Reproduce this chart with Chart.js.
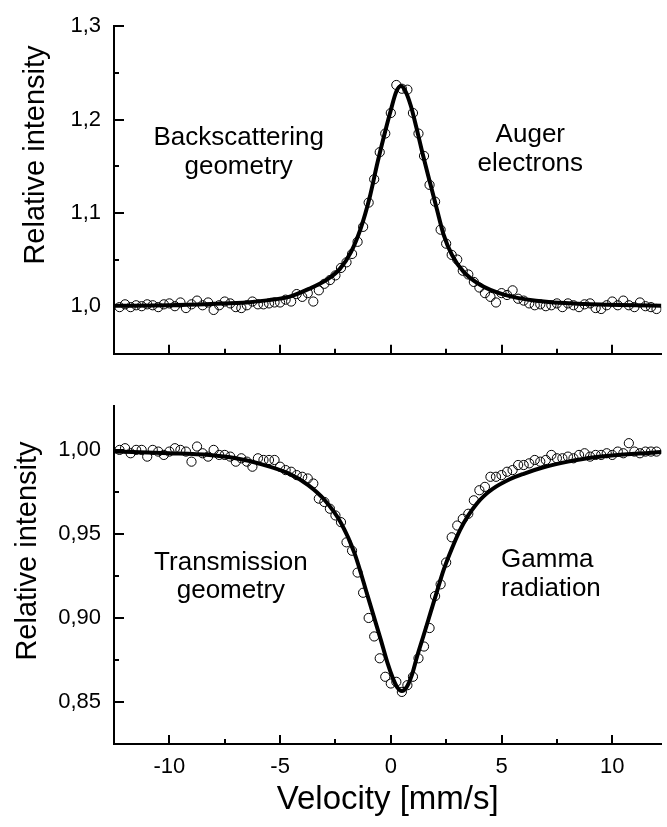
<!DOCTYPE html>
<html>
<head>
<meta charset="utf-8">
<script src="https://cdn.jsdelivr.net/npm/chart.js@4.4.1/dist/chart.umd.min.js"></script>
<style>
html,body{margin:0;padding:0;background:#fff;overflow:hidden;width:667px;height:827px;}
canvas{position:absolute;left:0;}
#c1{top:0;}
#c2{top:380px;}
</style>
</head>
<body>
<canvas id="c1" width="667" height="380"></canvas>
<canvas id="c2" width="667" height="447"></canvas>
<script>
// ---------- data ----------
const velocity = [-12.25,-12,-11.75,-11.5,-11.25,-11,-10.75,-10.5,-10.25,-10,
  -9.75,-9.5,-9.25,-9,-8.75,-8.5,-8.25,-8,-7.75,-7.5,
  -7.25,-7,-6.75,-6.5,-6.25,-6,-5.75,-5.5,-5.25,-5,
  -4.75,-4.5,-4.25,-4,-3.75,-3.5,-3.25,-3,-2.75,-2.5,
  -2.25,-2,-1.75,-1.5,-1.25,-1,-0.75,-0.5,-0.25,0,
  0.25,0.5,0.75,1,1.25,1.5,1.75,2,2.25,2.5,
  2.75,3,3.25,3.5,3.75,4,4.25,4.5,4.75,5,
  5.25,5.5,5.75,6,6.25,6.5,6.75,7,7.25,7.5,
  7.75,8,8.25,8.5,8.75,9,9.25,9.5,9.75,10,
  10.25,10.5,10.75,11,11.25,11.5,11.75,12];

const augerIntensity = [0.999,1.002,0.999,1.001,1.000,1.002,1.001,0.999,1.002,1.003,
  1.000,1.004,0.998,1.002,1.006,1.001,1.004,0.996,1.001,1.005,
  1.003,0.999,0.998,1.001,1.005,1.002,1.002,1.003,1.004,1.004,
  1.007,1.005,1.013,1.010,1.014,1.005,1.017,1.024,1.028,1.033,
  1.041,1.047,1.056,1.069,1.085,1.111,1.136,1.165,1.185,1.207,
  1.237,1.233,1.232,1.207,1.185,1.161,1.130,1.112,1.082,1.067,
  1.055,1.050,1.038,1.034,1.026,1.020,1.014,1.010,1.004,1.014,
  1.012,1.017,1.008,1.006,1.003,1.001,1.002,1.000,1.001,1.003,
  0.999,1.003,1.001,0.999,1.002,1.003,0.998,0.997,1.001,1.005,
  1.001,1.006,1.001,0.999,1.004,1.000,0.999,0.997];

const gammaIntensity = [1.000,1.001,0.998,1.000,1.000,0.996,1.000,0.999,0.997,0.999,
  1.001,1.000,0.999,0.993,1.002,0.998,0.996,1.000,0.997,0.997,
  0.996,0.993,0.995,0.993,0.990,0.995,0.994,0.994,0.994,0.990,
  0.988,0.987,0.985,0.984,0.983,0.980,0.971,0.969,0.965,0.961,
  0.957,0.945,0.940,0.927,0.915,0.900,0.889,0.876,0.865,0.861,
  0.862,0.856,0.860,0.865,0.876,0.883,0.894,0.913,0.920,0.933,
  0.948,0.955,0.959,0.962,0.970,0.976,0.978,0.984,0.984,0.985,
  0.987,0.988,0.991,0.991,0.992,0.994,0.993,0.994,0.997,0.995,
  0.995,0.996,0.995,0.997,0.998,0.996,0.997,0.997,0.998,0.997,
  0.999,0.998,1.004,0.999,0.998,0.999,0.999,0.999];

const fitVelTop = [-12.5,-10,-8,-6.5,-5.5,-4.6,-3.7,-2.85,-2.3,-1.8,-1.35,-0.97,-0.6,-0.3,0,0.25,0.46,0.67,0.9,1.15,1.42,1.79,2.09,2.38,2.76,3.28,4.03,5.07,6.56,8.8,12.22];
const fitTop = [1.0005,1.001,1.0025,1.004,1.0065,1.010,1.0185,1.029,1.040,1.058,1.084,1.115,1.154,1.183,1.210,1.230,1.236,1.230,1.215,1.192,1.165,1.1306,1.103,1.077,1.055,1.037,1.023,1.0127,1.0058,1.0023,1.0006];

const fitVelBottom = [-12.5,-10,-8.2,-7,-5.96,-4.62,-3.73,-2.98,-2.24,-1.64,-1.04,-0.45,-0.15,0.1,0.3,0.5,0.7,0.95,1.19,1.49,1.79,2.09,2.39,2.75,3.13,3.5,3.88,4.2,4.6,5.37,6.0,6.86,8.0,9.1,12.22];
const fitBottom = [0.9990,0.9980,0.9969,0.9950,0.9919,0.986,0.979,0.970,0.9563,0.9386,0.9128,0.887,0.8733,0.864,0.8585,0.8565,0.8585,0.866,0.8772,0.890,0.903,0.916,0.9287,0.941,0.9524,0.961,0.968,0.9725,0.9768,0.9825,0.9858,0.9895,0.9930,0.9955,0.9988];

const xTickValues = [-10,-5,0,5,10];
const xTickLabels = ['-10','-5','0','5','10'];
const xMinorTicks = [-7.5,-2.5,2.5,7.5];
const yTickValuesTop = [1.0,1.1,1.2,1.3];
const yTickLabelsTop = ['1,0','1,1','1,2','1,3'];
const yMinorTop = [1.05,1.15,1.25];
const yTickValuesBottom = [0.85,0.90,0.95,1.00];
const yTickLabelsBottom = ['0,85','0,90','0,95','1,00'];
const yMinorBottom = [0.875,0.925,0.975];

// ---------- drawing ----------
const FONT = '"Liberation Sans", Arial, Helvetica, sans-serif';
Chart.defaults.font.family = FONT;
Chart.defaults.color = '#000';

const decor = {
  id: 'decor',
  afterDraw(chart, args, o) {
    const ctx = chart.ctx, xs = chart.scales.x, ys = chart.scales.y, a = chart.chartArea;
    ctx.save();
    ctx.strokeStyle = '#000';
    ctx.lineWidth = 2;
    ctx.beginPath();
    o.xMajor.forEach(v => { const p = Math.round(xs.getPixelForValue(v)); ctx.moveTo(p, a.bottom); ctx.lineTo(p, a.bottom - 9); });
    o.xMinor.forEach(v => { const p = Math.round(xs.getPixelForValue(v)); ctx.moveTo(p, a.bottom); ctx.lineTo(p, a.bottom - 5); });
    o.yMajor.forEach(v => { const p = Math.round(ys.getPixelForValue(v)); ctx.moveTo(a.left, p); ctx.lineTo(a.left + 10, p); });
    o.yMinor.forEach(v => { const p = Math.round(ys.getPixelForValue(v)); ctx.moveTo(a.left, p); ctx.lineTo(a.left + 5, p); });
    ctx.stroke();
    ctx.fillStyle = '#000';
    ctx.font = '26px ' + FONT;
    ctx.textBaseline = 'alphabetic';
    o.notes.forEach(n => {
      ctx.textAlign = n.align;
      ctx.fillText(n.text, xs.getPixelForValue(n.x), ys.getPixelForValue(n.y));
    });
    // rotated axis title
    ctx.font = '29px ' + FONT;
    ctx.textAlign = 'center';
    ctx.textBaseline = 'middle';
    ctx.translate(o.title.cx, o.title.cy);
    ctx.rotate(-Math.PI / 2);
    ctx.fillText(o.title.text, 0, 0);
    ctx.restore();
  }
};

function makeChart(id, cfg) {
  return new Chart(document.getElementById(id), {
    type: 'scatter',
    data: { datasets: [
      { data: cfg.fitX.map((x, i) => ({x, y: cfg.fitY[i]})), showLine: true, borderColor: '#000', borderWidth: 4,
        pointRadius: 0, pointHoverRadius: 0, cubicInterpolationMode: 'monotone', fill: false },
      { data: velocity.map((x, i) => ({x, y: cfg.points[i]})), showLine: false, pointRadius: 4.6, pointHoverRadius: 4.6,
        pointBorderWidth: 1, borderColor: '#000', backgroundColor: 'rgba(0,0,0,0)' }
    ]},
    options: {
      responsive: false, animation: false, devicePixelRatio: 1, events: [],
      layout: { padding: { top: cfg.padTop, left: 0, right: 0, bottom: 0 } },
      plugins: { legend: { display: false }, tooltip: { enabled: false }, decor: cfg.decor },
      scales: {
        x: {
          type: 'linear', min: -12.5, max: 12.22,
          grid: { display: false, drawTicks: false },
          border: { display: true, color: '#000', width: 2 },
          ticks: { display: cfg.xLabels, color: '#000', font: { size: 22 }, padding: 10,
                   callback: (v, i) => xTickLabels[i] },
          afterBuildTicks: s => { s.ticks = xTickValues.map(v => ({value: v})); },
          title: { display: cfg.xLabels, text: 'Velocity [mm/s]', color: '#000', font: { size: 33 }, padding: { top: 0, bottom: 7 } },
          afterFit: s => { s.height = cfg.xHeight; }
        },
        y: {
          type: 'linear', min: cfg.yMin, max: cfg.yMax,
          grid: { display: false, drawTicks: false },
          border: { display: true, color: '#000', width: 2 },
          ticks: { color: '#000', font: { size: 22 }, padding: 13, callback: (v, i) => cfg.yLabels[i] },
          afterBuildTicks: s => { s.ticks = cfg.yTicks.map(v => ({value: v})); },
          afterFit: s => { s.width = 114; }
        }
      }
    },
    plugins: [decor]
  });
}

makeChart('c1', {
  fitX: fitVelTop, fitY: fitTop, points: augerIntensity,
  padTop: 20, xHeight: 22, xLabels: false,
  yMin: 0.949, yMax: 1.3, yTicks: yTickValuesTop, yLabels: yTickLabelsTop,
  decor: {
    xMajor: xTickValues, xMinor: xMinorTicks, yMajor: yTickValuesTop, yMinor: yMinorTop,
    title: { text: 'Relative intensity', cx: 36, cy: 155 },
    notes: [
      { text: 'Backscattering', x: -6.87, y: 1.1725, align: 'center' },
      { text: 'geometry', x: -6.87, y: 1.1413, align: 'center' },
      { text: 'Auger', x: 6.3, y: 1.1756, align: 'center' },
      { text: 'electrons', x: 6.3, y: 1.1444, align: 'center' }
    ]
  }
});

makeChart('c2', {
  fitX: fitVelBottom, fitY: fitBottom, points: gammaIntensity,
  padTop: 26, xHeight: 83, xLabels: true,
  yMin: 0.825, yMax: 1.026, yTicks: yTickValuesBottom, yLabels: yTickLabelsBottom,
  decor: {
    xMajor: xTickValues, xMinor: xMinorTicks, yMajor: yTickValuesBottom, yMinor: yMinorBottom,
    title: { text: 'Relative intensity', cx: 28, cy: 171 },
    notes: [
      { text: 'Transmission', x: -7.22, y: 0.9287, align: 'center' },
      { text: 'geometry', x: -7.22, y: 0.912, align: 'center' },
      { text: 'Gamma', x: 4.98, y: 0.9304, align: 'left' },
      { text: 'radiation', x: 4.98, y: 0.9132, align: 'left' }
    ]
  }
});
</script>
</body>
</html>
